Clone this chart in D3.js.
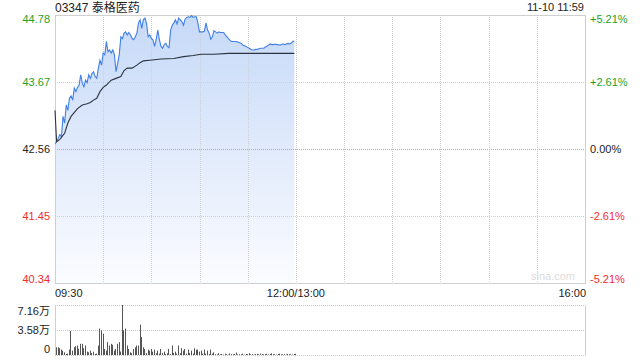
<!DOCTYPE html>
<html>
<head>
<meta charset="utf-8">
<script src="https://cdn.jsdelivr.net/npm/d3@7"></script>
<style>
  body { margin: 0; background: #fff; }
  text { font-family: "Liberation Sans", Arial, "Noto Sans CJK SC", sans-serif; }
</style>
</head>
<body>
<script>
// 03347 intraday, minutes since 09:30 (lunch break collapsed)
var prevClose = 42.56;

var timeLabels = ["09:30", "12:00/13:00", "16:00"];
var timeTicks = [0, 150, 330];

var priceTicks = [44.78, 43.67, 42.56, 41.45, 40.34];
var pctTicks = ["+5.21%", "+2.61%", "0.00%", "-2.61%", "-5.21%"];

var volTicks = [71600, 35800, 0];
var volLabels = ["7.16万", "3.58万", "0"];

// one price per minute, 09:30 .. 11:59
var prices = [
  42.65, 42.68, 42.74, 42.80, 42.76, 43.10, 42.99, 43.29, 43.20, 43.40,
  43.44, 43.37, 43.57, 43.51, 43.58, 43.62, 43.79, 43.65, 43.59, 43.70,
  43.66, 43.79, 43.73, 43.81, 43.84, 43.76, 43.73, 43.90, 44.03, 43.95,
  44.15, 44.12, 44.34, 44.17, 44.20, 44.15, 44.20, 44.12, 43.84, 43.98,
  44.12, 44.42, 44.39, 44.48, 44.50, 44.45, 44.49, 44.45, 44.39, 44.37,
  44.42, 44.48, 44.65, 44.70, 44.56, 44.70, 44.73, 44.64, 44.42, 44.45,
  44.39, 44.37, 44.26, 44.37, 44.53, 44.37, 44.26, 44.23, 44.29, 44.31,
  44.26, 44.24, 44.53, 44.61, 44.65, 44.70, 44.63, 44.73, 44.70, 44.67,
  44.61, 44.71, 44.74, 44.75, 44.74, 44.77, 44.74, 44.75, 44.75, 44.64,
  44.50, 44.50, 44.50, 44.51, 44.65, 44.53, 44.48, 44.38, 44.42, 44.52,
  44.50, 44.48, 44.50, 44.49, 44.49, 44.49, 44.45, 44.42, 44.39, 44.36,
  44.34, 44.34, 44.34, 44.34, 44.33, 44.32, 44.31, 44.28, 44.27, 44.26,
  44.24, 44.23, 44.21, 44.20, 44.20, 44.21, 44.21, 44.22, 44.23, 44.23,
  44.23, 44.25, 44.26, 44.28, 44.30, 44.29, 44.29, 44.30, 44.29, 44.29,
  44.28, 44.29, 44.30, 44.29, 44.30, 44.31, 44.30, 44.31, 44.34, 44.35
];

// average price line, read at these minutes
var avgMinutes = [0, 1, 3, 6, 8, 10, 14, 17, 20, 22, 24, 26, 28, 30, 32, 35, 38, 41, 43, 45,
  48, 51, 53, 55, 59, 66, 74, 80, 86, 91, 99, 108, 149];
var avgPrices = [43.20, 42.68, 42.72, 42.82, 42.99, 43.10, 43.23, 43.29, 43.31, 43.33, 43.37,
  43.40, 43.51, 43.58, 43.62, 43.70, 43.73, 43.76, 43.86, 43.90, 43.90, 43.95, 43.99, 44.02,
  44.03, 44.05, 44.06, 44.09, 44.11, 44.13, 44.13, 44.145, 44.145];

// volume per minute (shares)
var volumes = [
  11000, 11100, 9700, 7700, 6300, 3900, 1500, 2000, 7700, 34400,
  6300, 11100, 12600, 13600, 9000, 16000, 16000, 9700, 13600, 4800,
  3900, 6300, 2900, 4800, 1500, 2000, 13600, 37800, 35300, 30500,
  8700, 6300, 18400, 13600, 16000, 14500, 6300, 8700, 16000, 18400,
  5000, 71600, 35300, 37800, 13600, 8700, 3900, 2500, 8700, 11100,
  13600, 13600, 43600, 25700, 11100, 8700, 3000, 7700, 6300, 8700,
  4800, 7700, 2500, 6300, 2000, 8700, 3000, 4800, 1500, 2500,
  8700, 1500, 13600, 3000, 4800, 2000, 13600, 2500, 9700, 6300,
  8700, 2000, 7700, 3000, 6300, 2000, 9700, 7700, 7700, 4800,
  6300, 2000, 7700, 2000, 6300, 1500, 7700, 2000, 3900, 1200,
  800, 2500, 900, 1500, 600, 1800, 1000, 700, 2200, 1300,
  900, 1600, 3500, 800, 1200, 1000, 1900, 700, 1400, 1100,
  2600, 900, 1500, 800, 1200, 1700, 1000, 2000, 1300, 900,
  1100, 1600, 800, 1400, 2400, 1000, 1200, 700, 1500, 1900,
  900, 1100, 1300, 800, 1600, 1000, 1200, 900, 1400, 1800
];

var w = 640,
    h = 360;

var plot = { left: 55, right: 585, top: 15, bottom: 283 };
var vol = { top: 305, bottom: 355 };

var x = d3.scaleLinear()
    .domain([0, 330])
    .range([plot.left, plot.right]);

var y = d3.scaleLinear()
    .domain([priceTicks[4], priceTicks[0]])
    .range([plot.bottom, plot.top]);

var yv = d3.scaleLinear()
    .domain([0, volTicks[0]])
    .range([vol.bottom, vol.top]);

var svg = d3.select("body").append("svg")
    .attr("width", w)
    .attr("height", h);

var defs = svg.append("defs");
var grad = defs.append("linearGradient")
    .attr("id", "area-grad")
    .attr("gradientUnits", "userSpaceOnUse")
    .attr("x1", 0).attr("y1", plot.top)
    .attr("x2", 0).attr("y2", plot.bottom);
grad.append("stop").attr("offset", "0%").attr("stop-color", "#c6d9f8");
grad.append("stop").attr("offset", "100%").attr("stop-color", "#fbfcff");

function colorFor(v) {
    if (v > prevClose + 1e-9) return "#1fa21f";
    if (v < prevClose - 1e-9) return "#f02d2d";
    return "#222";
}

// area under the price line
var area = d3.area()
    .x(function(d, i) { return x(i); })
    .y0(plot.bottom)
    .y1(function(d) { return y(d); });

svg.append("path")
    .datum(prices)
    .attr("d", area)
    .attr("fill", "url(#area-grad)");

// grid - verticals every 30 minutes
var vgrid = d3.range(1, 11).map(function(k) { return k * 30; });
svg.append("g")
    .attr("class", "grid")
    .selectAll("line")
    .data(vgrid)
    .enter().append("line")
    .attr("x1", function(d) { return Math.round(x(d)) + 0.5; })
    .attr("x2", function(d) { return Math.round(x(d)) + 0.5; })
    .attr("y1", plot.top)
    .attr("y2", plot.bottom)
    .attr("stroke", "#cfcfcf")
    .attr("stroke-dasharray", "1,1");

svg.append("g")
    .attr("class", "grid")
    .selectAll("line")
    .data(priceTicks.slice(1, 4))
    .enter().append("line")
    .attr("x1", plot.left)
    .attr("x2", plot.right)
    .attr("y1", function(d) { return Math.round(y(d)) + 0.5; })
    .attr("y2", function(d) { return Math.round(y(d)) + 0.5; })
    .attr("stroke", function(d) { return d === prevClose ? "#aaa" : "#cfcfcf"; })
    .attr("stroke-dasharray", "1,1");

// border
svg.append("rect")
    .attr("x", plot.left + 0.5)
    .attr("y", plot.top + 0.5)
    .attr("width", plot.right - plot.left)
    .attr("height", plot.bottom - plot.top)
    .attr("fill", "none")
    .attr("stroke", "#d0d0d0");

// watermark
svg.append("text")
    .text("sina.com")
    .attr("x", 575)
    .attr("y", 280)
    .attr("text-anchor", "end")
    .attr("font-size", 11)
    .attr("fill", "#dcdcdc");

// price + avg lines
var line = d3.line()
    .x(function(d, i) { return x(i); })
    .y(function(d) { return y(d); });

svg.append("path")
    .datum(prices)
    .attr("d", line)
    .attr("fill", "none")
    .attr("stroke", "#3f7fe6")
    .attr("stroke-width", 1.1);

var avgLine = d3.line()
    .x(function(d) { return x(d[0]); })
    .y(function(d) { return y(d[1]); });

svg.append("path")
    .datum(avgMinutes.map(function(m, i) { return [m, avgPrices[i]]; }))
    .attr("d", avgLine)
    .attr("fill", "none")
    .attr("stroke", "#2b3340")
    .attr("stroke-width", 1.1);

// left + right labels
var labelOffset = [4, 0, 0, 0, -4];

svg.append("g")
    .selectAll("text")
    .data(priceTicks)
    .enter().append("text")
    .text(function(d) { return d3.format(".2f")(d); })
    .attr("x", 50)
    .attr("y", function(d, i) { return y(d) + labelOffset[i]; })
    .attr("dy", "0.35em")
    .attr("text-anchor", "end")
    .attr("font-size", 11)
    .attr("fill", function(d) { return colorFor(d); });

svg.append("g")
    .selectAll("text")
    .data(pctTicks)
    .enter().append("text")
    .text(function(d) { return d; })
    .attr("x", 590)
    .attr("y", function(d, i) { return y(priceTicks[i]) + labelOffset[i]; })
    .attr("dy", "0.35em")
    .attr("font-size", 11)
    .attr("fill", function(d, i) { return colorFor(priceTicks[i]); });

// time labels
svg.append("g")
    .selectAll("text")
    .data(timeLabels)
    .enter().append("text")
    .text(function(d) { return d; })
    .attr("x", function(d, i) { return x(timeTicks[i]) + (i === 0 ? 0 : i === 2 ? 1 : 0); })
    .attr("y", 297)
    .attr("text-anchor", function(d, i) { return ["start", "middle", "end"][i]; })
    .attr("font-size", 11)
    .attr("fill", "#222");

// title + time stamp
svg.append("text")
    .text("03347 泰格医药")
    .attr("x", 55)
    .attr("y", 12)
    .attr("font-size", 12)
    .attr("fill", "#222");

svg.append("text")
    .text("11-10 11:59")
    .attr("x", 584)
    .attr("y", 11)
    .attr("text-anchor", "end")
    .attr("font-size", 11)
    .attr("fill", "#222");

// volume panel
svg.append("g")
    .selectAll("line")
    .data(volTicks)
    .enter().append("line")
    .attr("x1", plot.left)
    .attr("x2", plot.right)
    .attr("y1", function(d) { return Math.round(yv(d)) + 0.5; })
    .attr("y2", function(d) { return Math.round(yv(d)) + 0.5; })
    .attr("stroke", "#c8c8c8")
    .attr("stroke-dasharray", "1,1");

svg.append("g")
    .selectAll("line")
    .data([plot.left, plot.right])
    .enter().append("line")
    .attr("x1", function(d) { return d + 0.5; })
    .attr("x2", function(d) { return d + 0.5; })
    .attr("y1", vol.top)
    .attr("y2", vol.bottom + 1)
    .attr("stroke", "#d0d0d0");

svg.append("g")
    .attr("class", "bars")
    .selectAll("rect")
    .data(volumes)
    .enter().append("rect")
    .attr("x", function(d, i) { return Math.round(x(i)) + 1; })
    .attr("width", 1)
    .attr("y", function(d) { return yv(d); })
    .attr("height", function(d) { return vol.bottom - yv(d); })
    .attr("fill", "#555");

var volOffset = [6, 0, -6];
svg.append("g")
    .selectAll("text")
    .data(volLabels)
    .enter().append("text")
    .text(function(d) { return d; })
    .attr("x", 50)
    .attr("y", function(d, i) { return yv(volTicks[i]) + volOffset[i]; })
    .attr("dy", "0.35em")
    .attr("text-anchor", "end")
    .attr("font-size", 11)
    .attr("fill", "#222");
</script>
</body>
</html>
